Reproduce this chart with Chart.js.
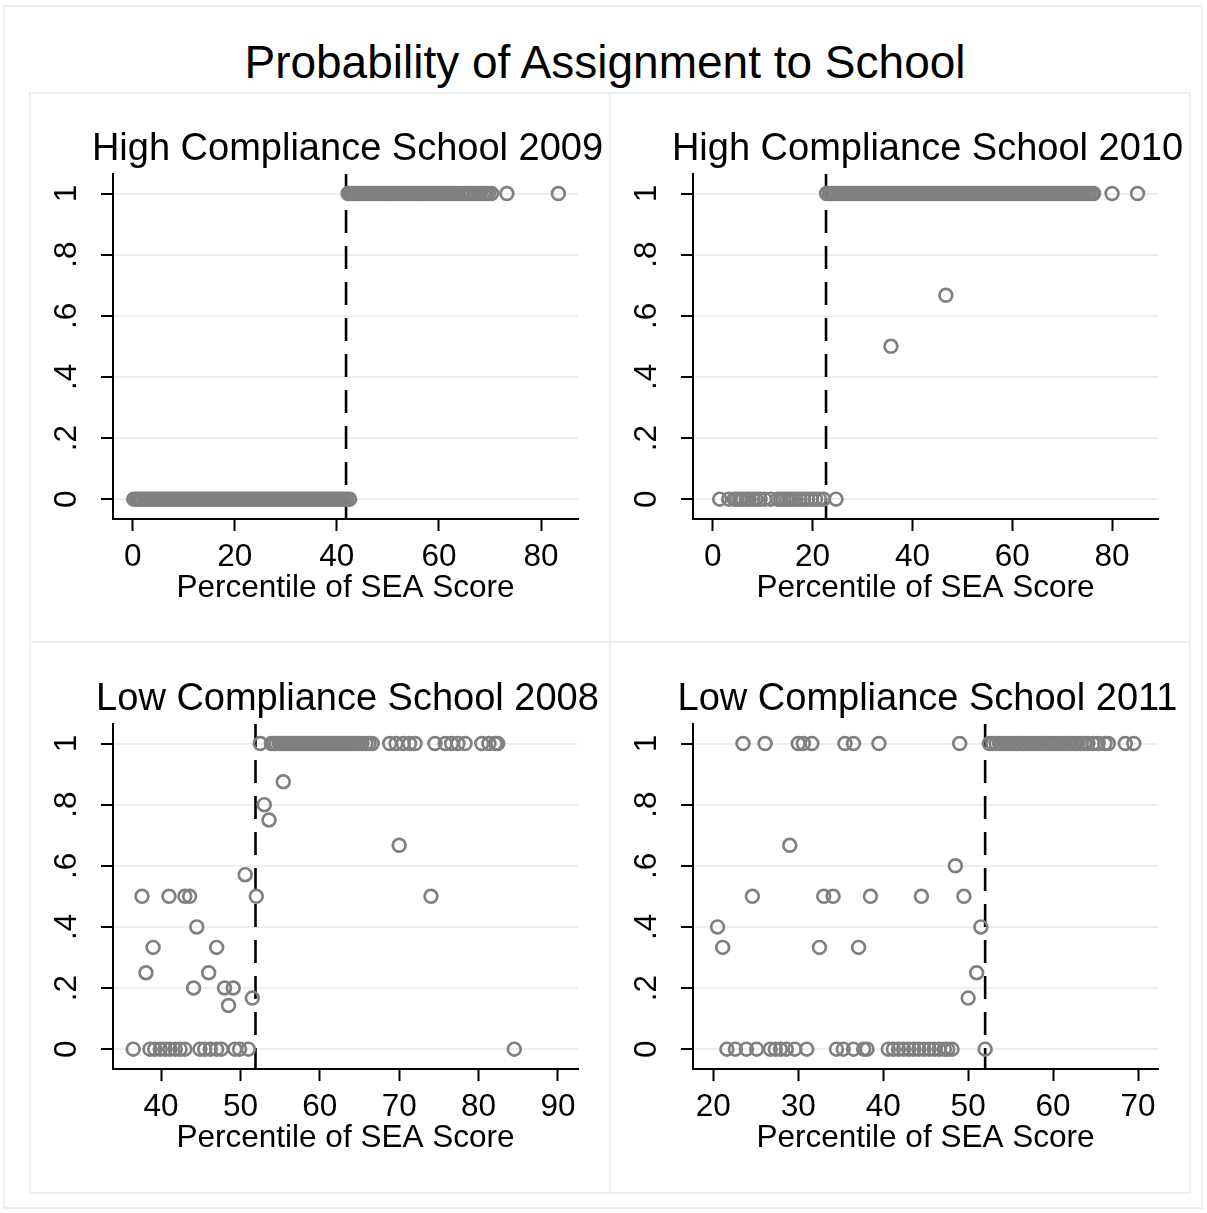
<!DOCTYPE html>
<html>
<head>
<meta charset="utf-8">
<script src="https://cdn.jsdelivr.net/npm/chart.js@4.4.1/dist/chart.umd.min.js"></script>
<style>
  body { margin: 0; background: #fff; }
  #page { position: relative; width: 1207px; height: 1213px; font-family: "Liberation Sans", Arial, sans-serif; }
  .frame { position: absolute; box-sizing: border-box; border: 2px solid #e8f0f2; }
  .rule { position: absolute; background: #e8f0f2; }
  canvas { position: absolute; }
  #title { position: absolute; left: 0; top: 31px; width: 1210px; text-align: center; font-size: 46px; line-height: 62px; color: #000; }
</style>
</head>
<body>
<div id="page">
  <div class="frame" style="left:3px;top:5px;width:1200px;height:1204px"></div>
  <div class="frame" style="left:29px;top:92px;width:1162px;height:1102px"></div>
  <div class="rule" style="left:609px;top:92px;width:2px;height:1102px"></div>
  <div class="rule" style="left:29px;top:641px;width:1162px;height:2px"></div>
  <div id="title">Probability of Assignment to School</div>
  <canvas id="p1" width="580" height="550" style="left:30px;top:93px"></canvas>
  <canvas id="p2" width="580" height="550" style="left:610px;top:93px"></canvas>
  <canvas id="p3" width="580" height="550" style="left:30px;top:643px"></canvas>
  <canvas id="p4" width="580" height="550" style="left:610px;top:643px"></canvas>
</div>
<script>
// y axis (probability) shared by all panels
const yTicks = [0, 0.2, 0.4, 0.6, 0.8, 1];
const yTickLabels = ['0', '.2', '.4', '.6', '.8', '1'];
const yRange = [-0.065, 1.064];

const panelTitles = ['High Compliance School 2009', 'High Compliance School 2010',
  'Low Compliance School 2008', 'Low Compliance School 2011'];
const xTicks = [[0, 20, 40, 60, 80], [0, 20, 40, 60, 80],
  [40, 50, 60, 70, 80, 90], [20, 30, 40, 50, 60, 70]];
const xRanges = [[-3.86, 87.24], [-3.95, 89.2], [33.95, 92.52], [17.61, 72.35]];
const cutoffs = [41.8, 22.7, 51.9, 52.0];

// High compliance 2009
const hc09One = [42.2, 42.6, 43.1, 43.5, 44.0, 44.4, 44.9, 45.3, 45.8, 46.2, 46.7, 47.1,
  47.6, 48.0, 48.5, 48.9, 49.4, 49.8, 50.3, 50.7, 51.2, 51.6, 52.1, 52.5, 53.0, 53.4,
  53.9, 54.3, 54.8, 55.2, 55.7, 56.1, 56.6, 57.0, 57.5, 57.9, 58.4, 58.8, 59.3, 59.7,
  60.2, 60.6, 61.1, 61.5, 62.0, 62.4, 62.9, 63.3, 63.8, 64.6, 65.3, 65.9, 66.4, 67.0,
  67.6, 68.1, 68.7, 69.2, 69.7, 70.3, 73.3, 83.4];
const hc09Zero = [0.2, 0.7, 1.1, 1.5, 1.9, 2.4, 2.8, 3.3, 3.7, 4.2, 4.6, 5.1, 5.5, 6.0,
  6.4, 6.9, 7.3, 7.8, 8.2, 8.7, 9.1, 9.6, 10.0, 10.5, 10.9, 11.4, 11.8, 12.3, 12.7, 13.2,
  13.6, 14.1, 14.5, 15.0, 15.4, 15.9, 16.3, 16.8, 17.2, 17.7, 18.1, 18.6, 19.0, 19.5,
  19.9, 20.4, 20.8, 21.3, 21.7, 22.2, 22.6, 23.1, 23.5, 24.0, 24.4, 24.9, 25.3, 25.8,
  26.2, 26.7, 27.1, 27.6, 28.0, 28.5, 28.9, 29.4, 29.8, 30.3, 30.7, 31.2, 31.6, 32.1,
  32.5, 33.0, 33.4, 33.9, 34.3, 34.8, 35.2, 35.7, 36.1, 36.6, 37.0, 37.5, 37.9, 38.4,
  38.8, 39.3, 39.7, 40.2, 40.6, 41.1, 41.5, 42.0, 42.5];
const hc09MidX = [];
const hc09MidY = [];

// High compliance 2010
const hc10One = [22.8, 23.3, 23.8, 24.3, 24.8, 25.3, 25.8, 26.4, 26.9, 27.4, 27.9, 28.4,
  28.9, 29.4, 29.9, 30.4, 30.9, 31.4, 31.9, 32.4, 33.0, 33.5, 34.0, 34.5, 35.0, 35.5,
  36.0, 36.5, 37.0, 37.6, 38.1, 38.6, 39.1, 39.6, 40.2, 40.7, 41.2, 41.7, 42.2, 42.7,
  43.2, 43.7, 44.3, 44.8, 45.3, 45.8, 46.3, 46.9, 47.4, 47.9, 48.4, 48.9, 49.4, 49.9,
  50.4, 50.9, 51.4, 51.9, 52.4, 53.0, 53.5, 54.0, 54.5, 55.0, 55.5, 56.0, 56.5, 57.0,
  57.6, 58.1, 58.6, 59.1, 59.6, 60.2, 60.7, 61.2, 61.7, 62.2, 62.7, 63.2, 63.7, 64.2,
  64.7, 65.3, 65.8, 66.3, 66.8, 67.3, 67.8, 68.4, 68.9, 69.4, 69.9, 70.4, 70.9, 71.4,
  71.9, 72.4, 72.9, 73.4, 73.9, 74.4, 74.9, 75.4, 75.9, 76.3, 80.0, 85.1];
const hc10Zero = [1.4, 3.2, 4.3, 4.8, 5.4, 6.0, 6.7, 7.3, 8.1, 8.7, 9.5, 10.4, 11.6, 13.0,
  13.6, 14.2, 14.8, 15.4, 16.0, 16.7, 17.5, 18.2, 19.0, 19.8, 20.6, 21.4, 22.2, 24.7];
const hc10MidX = [35.7, 46.7];
const hc10MidY = [0.5, 0.667];

// Low compliance 2008
const lc08One = [52.5, 53.9, 54.2, 54.5, 54.9, 55.2, 55.5, 55.9, 56.2, 56.5, 56.9, 57.2,
  57.5, 57.9, 58.2, 58.5, 58.9, 59.2, 59.5, 59.9, 60.2, 60.5, 60.9, 61.2, 61.5, 61.9,
  62.2, 62.5, 62.9, 63.2, 63.5, 63.9, 64.2, 64.5, 64.9, 65.3, 65.8, 66.2, 66.6, 68.8,
  69.6, 70.5, 71.3, 72.0, 74.5, 75.8, 76.6, 77.4, 78.3, 80.4, 81.3, 82.1, 82.4];
const lc08Zero = [36.5, 38.6, 39.2, 39.9, 40.5, 41.1, 41.8, 42.4, 43.0, 44.9, 45.5, 46.2,
  47.0, 47.6, 49.3, 49.9, 51.0, 84.5];
const lc08MidX = [55.4, 53.0, 53.6, 70.0, 50.6, 37.6, 41.0, 43.0, 43.6, 52.0, 74.0, 44.5,
  39.0, 47.0, 38.1, 46.0, 44.1, 48.0, 49.1, 48.5, 51.5];
const lc08MidY = [0.875, 0.8, 0.75, 0.667, 0.571, 0.5, 0.5, 0.5, 0.5, 0.5, 0.5, 0.4,
  0.333, 0.333, 0.25, 0.25, 0.2, 0.2, 0.2, 0.143, 0.167];

// Low compliance 2011
const lc11One = [23.5, 26.1, 30.0, 30.6, 31.6, 35.5, 36.5, 39.5, 49.0, 52.5, 52.9, 53.3,
  53.7, 54.1, 54.5, 54.9, 55.3, 55.7, 56.1, 56.5, 56.9, 57.3, 57.7, 58.1, 58.5, 58.9,
  59.3, 59.7, 60.1, 60.5, 60.9, 61.3, 61.7, 62.1, 62.5, 62.9, 63.3, 63.7, 64.1, 64.7,
  65.3, 66.1, 66.5, 68.5, 69.5];
const lc11Zero = [21.6, 22.6, 23.9, 25.1, 26.7, 27.3, 27.9, 28.6, 29.6, 31.0, 34.5, 35.3,
  36.5, 37.7, 38.1, 40.6, 41.2, 41.8, 42.4, 43.0, 43.6, 44.2, 44.8, 45.4, 46.0, 46.6,
  47.2, 47.6, 48.1, 52.0];
const lc11MidX = [29.0, 48.5, 24.6, 33.0, 34.1, 38.5, 44.5, 49.5, 20.5, 51.5, 21.1, 32.5,
  37.1, 51.0, 50.0];
const lc11MidY = [0.667, 0.6, 0.5, 0.5, 0.5, 0.5, 0.5, 0.5, 0.4, 0.4, 0.333, 0.333,
  0.333, 0.25, 0.167];

const FONT = '"Liberation Sans", Arial, sans-serif';
const MARKER = '#808080';
const GRID = '#e8f0f2';

function toPoints(one, zero, midX, midY) {
  return one.map(x => ({ x, y: 1 }))
    .concat(zero.map(x => ({ x, y: 0 })))
    .concat(midX.map((x, i) => ({ x, y: midY[i] })));
}

const panelTitle = {
  id: 'panelTitle',
  afterDraw(chart, args, opts) {
    const { ctx, chartArea } = chart;
    ctx.save();
    ctx.font = '38px ' + FONT;
    ctx.fillStyle = '#000';
    ctx.textAlign = 'center';
    ctx.textBaseline = 'middle';
    ctx.fillText(opts.text, (chartArea.left + chartArea.right) / 2 + 2, 57);
    ctx.restore();
  }
};

function drawPanel(id, i, points) {
  new Chart(document.getElementById(id), {
    type: 'scatter',
    data: {
      datasets: [{
        data: points,
        pointRadius: 6.4,
        pointBorderWidth: 2.7,
        borderColor: MARKER,
        pointBorderColor: MARKER,
        pointBackgroundColor: 'rgba(0,0,0,0)'
      }, {
        data: [{ x: cutoffs[i], y: yRange[1] }, { x: cutoffs[i], y: yRange[0] }],
        showLine: true,
        pointRadius: 0,
        borderColor: '#000',
        borderWidth: 2.6,
        borderDash: [23, 13]
      }]
    },
    plugins: [panelTitle],
    options: {
      responsive: false,
      animation: false,
      events: [],
      layout: { padding: { top: 81, right: 32, bottom: 0, left: 0 } },
      plugins: {
        legend: { display: false },
        tooltip: { enabled: false },
        panelTitle: { text: panelTitles[i] }
      },
      scales: {
        x: {
          type: 'linear',
          min: xRanges[i][0],
          max: xRanges[i][1],
          afterBuildTicks: (s) => { s.ticks = xTicks[i].map(v => ({ value: v })); },
          afterFit: (s) => { s.height = 124; },
          grid: { display: true, drawOnChartArea: false, tickLength: 12, tickWidth: 2, tickColor: '#000' },
          border: { color: '#000', width: 2 },
          ticks: { color: '#000', font: { family: FONT, size: 31.5 }, padding: 7, maxRotation: 0, autoSkip: false },
          title: {
            display: true,
            text: 'Percentile of SEA Score',
            color: '#000',
            font: { family: FONT, size: 31.5 },
            padding: { top: 0, bottom: 36 }
          }
        },
        y: {
          min: yRange[0],
          max: yRange[1],
          afterBuildTicks: (s) => { s.ticks = yTicks.map(v => ({ value: v })); },
          afterFit: (s) => { s.width = 83; },
          grid: { color: GRID, lineWidth: 2, tickLength: 12, tickWidth: 2, tickColor: '#000' },
          border: { color: '#000', width: 2 },
          ticks: {
            color: '#000',
            font: { family: FONT, size: 31.5 },
            padding: 21,
            minRotation: 90,
            maxRotation: 90,
            crossAlign: 'center',
            callback: (v) => yTickLabels[yTicks.indexOf(v)]
          }
        }
      }
    }
  });
}

drawPanel('p1', 0, toPoints(hc09One, hc09Zero, hc09MidX, hc09MidY));
drawPanel('p2', 1, toPoints(hc10One, hc10Zero, hc10MidX, hc10MidY));
drawPanel('p3', 2, toPoints(lc08One, lc08Zero, lc08MidX, lc08MidY));
drawPanel('p4', 3, toPoints(lc11One, lc11Zero, lc11MidX, lc11MidY));
</script>
</body>
</html>
